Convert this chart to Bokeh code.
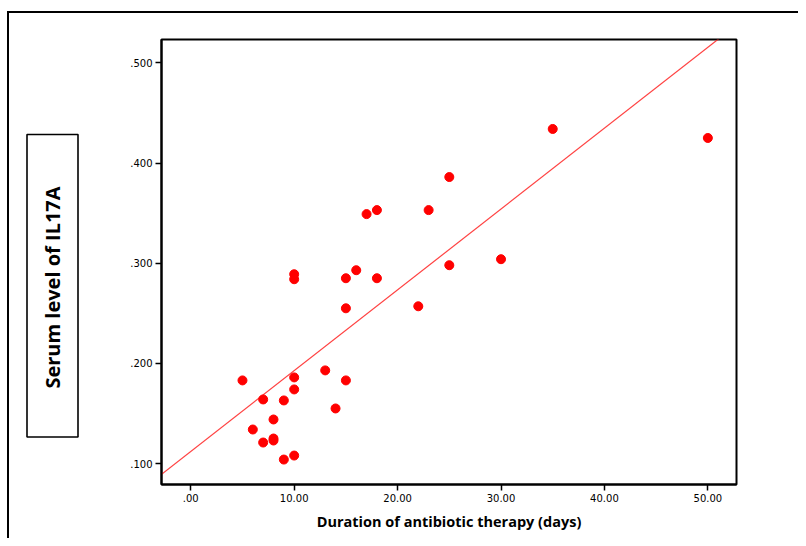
import numpy as np
from bokeh.plotting import figure
from bokeh.layouts import row
from bokeh.models import Range1d, FixedTicker, Label, BoxAnnotation
from bokeh.embed import file_html
from bokeh.resources import INLINE

# Data
duration_days = [5, 6, 7, 7, 8, 8, 8, 9, 9, 10, 10, 10, 10, 10, 13, 14, 15, 15, 15,
                 16, 17, 18, 18, 22, 23, 25, 25, 30, 35, 50]
serum_il17a = [0.183, 0.134, 0.164, 0.121, 0.144, 0.123, 0.125, 0.163, 0.104,
               0.186, 0.174, 0.108, 0.289, 0.284, 0.193, 0.155, 0.183, 0.285, 0.255,
               0.293, 0.349, 0.353, 0.285, 0.257, 0.353, 0.386, 0.298, 0.304, 0.434, 0.425]

fit_intercept = 0.112
fit_slope = 0.00807

x_ticks = [0, 10, 20, 30, 40, 50]
x_tick_labels = [".00", "10.00", "20.00", "30.00", "40.00", "50.00"]
y_ticks = [0.1, 0.2, 0.3, 0.4, 0.5]
y_tick_labels = [".100", ".200", ".300", ".400", ".500"]

x_title = "Duration of antibiotic therapy (days)"
y_title = "Serum level of IL17A"

OX, OY = 9, 13            # content origin inside the outer frame
ML, MT, MR, MB = 42, 26, 62, 54
FW, FH = 575, 445
W1 = 110

# ---- main scatter plot ----
p = figure(frame_width=FW, frame_height=FH, output_backend="svg", toolbar_location=None,
           x_range=Range1d(-2.83, 52.77), y_range=Range1d(0.0791, 0.5233),
           min_border_left=ML, min_border_top=MT, min_border_right=MR, min_border_bottom=MB)
p.background_fill_color = "white"
p.border_fill_color = "white"
p.outline_line_color = "black"
p.outline_line_width = 2
p.xgrid.visible = False
p.ygrid.visible = False

for ax, ticks, labels in ((p.xaxis[0], x_ticks, x_tick_labels), (p.yaxis[0], y_ticks, y_tick_labels)):
    ax.ticker = FixedTicker(ticks=ticks)
    ax.major_label_overrides = {t: l for t, l in zip(ticks, labels)}
    ax.minor_tick_line_color = None
    ax.major_tick_in = 0
    ax.major_tick_out = 6
    ax.major_tick_line_color = "black"
    ax.major_tick_line_width = 1.5
    ax.axis_line_color = "black"
    ax.axis_line_width = 2
    ax.major_label_text_font = "DejaVu Sans"
    ax.major_label_text_font_size = "10px"
    ax.major_label_text_color = "black"
    ax.major_label_standoff = 3

p.xaxis.axis_label = x_title
p.xaxis.axis_label_text_font = "Open Sans"
p.xaxis.axis_label_text_font_style = "bold"
p.xaxis.axis_label_text_font_size = "14.5px"
p.xaxis.axis_label_text_color = "black"
p.xaxis.axis_label_standoff = 7

xs_fit = np.array([-3.0, 53.0])
p.line(xs_fit, fit_intercept + fit_slope * xs_fit, line_color="#ff2020", line_width=1.2, line_alpha=0.85)
p.scatter(duration_days, serum_il17a, size=9, fill_color="#ff0000", line_color="#ff0000")

# ---- left panel with the boxed y-axis title (its frame is aligned with the main frame;
#      ranges chosen so that data units equal page pixels) ----
top_px = OY + MT
bot_px = OY + MT + FH
lp = figure(frame_width=W1, frame_height=FH, output_backend="svg", toolbar_location=None,
            x_range=Range1d(OX, OX + W1), y_range=Range1d(bot_px, top_px),
            min_border_left=0, min_border_right=0, min_border_top=MT, min_border_bottom=MB)
lp.axis.visible = False
lp.grid.visible = False
lp.outline_line_color = None
lp.background_fill_color = "white"
lp.border_fill_color = "white"
lp.add_layout(BoxAnnotation(left=26.5, right=77.5, top=134, bottom=436.5,
                            fill_alpha=0, line_color="black", line_alpha=1.0, line_width=1.6))
lp.add_layout(Label(x=51.5, y=287, text=y_title, angle=np.pi / 2,
                    text_align="center", text_baseline="middle",
                    text_font="Open Sans", text_font_style="bold", text_font_size="20px",
                    text_color="black"))

layout = row(lp, p, spacing=0)
layout.margin = (11, 0, 0, 7)
layout.styles = {"border-top": "2px solid black", "border-left": "2px solid black"}

open("out.html", "w").write(file_html(layout, INLINE))
